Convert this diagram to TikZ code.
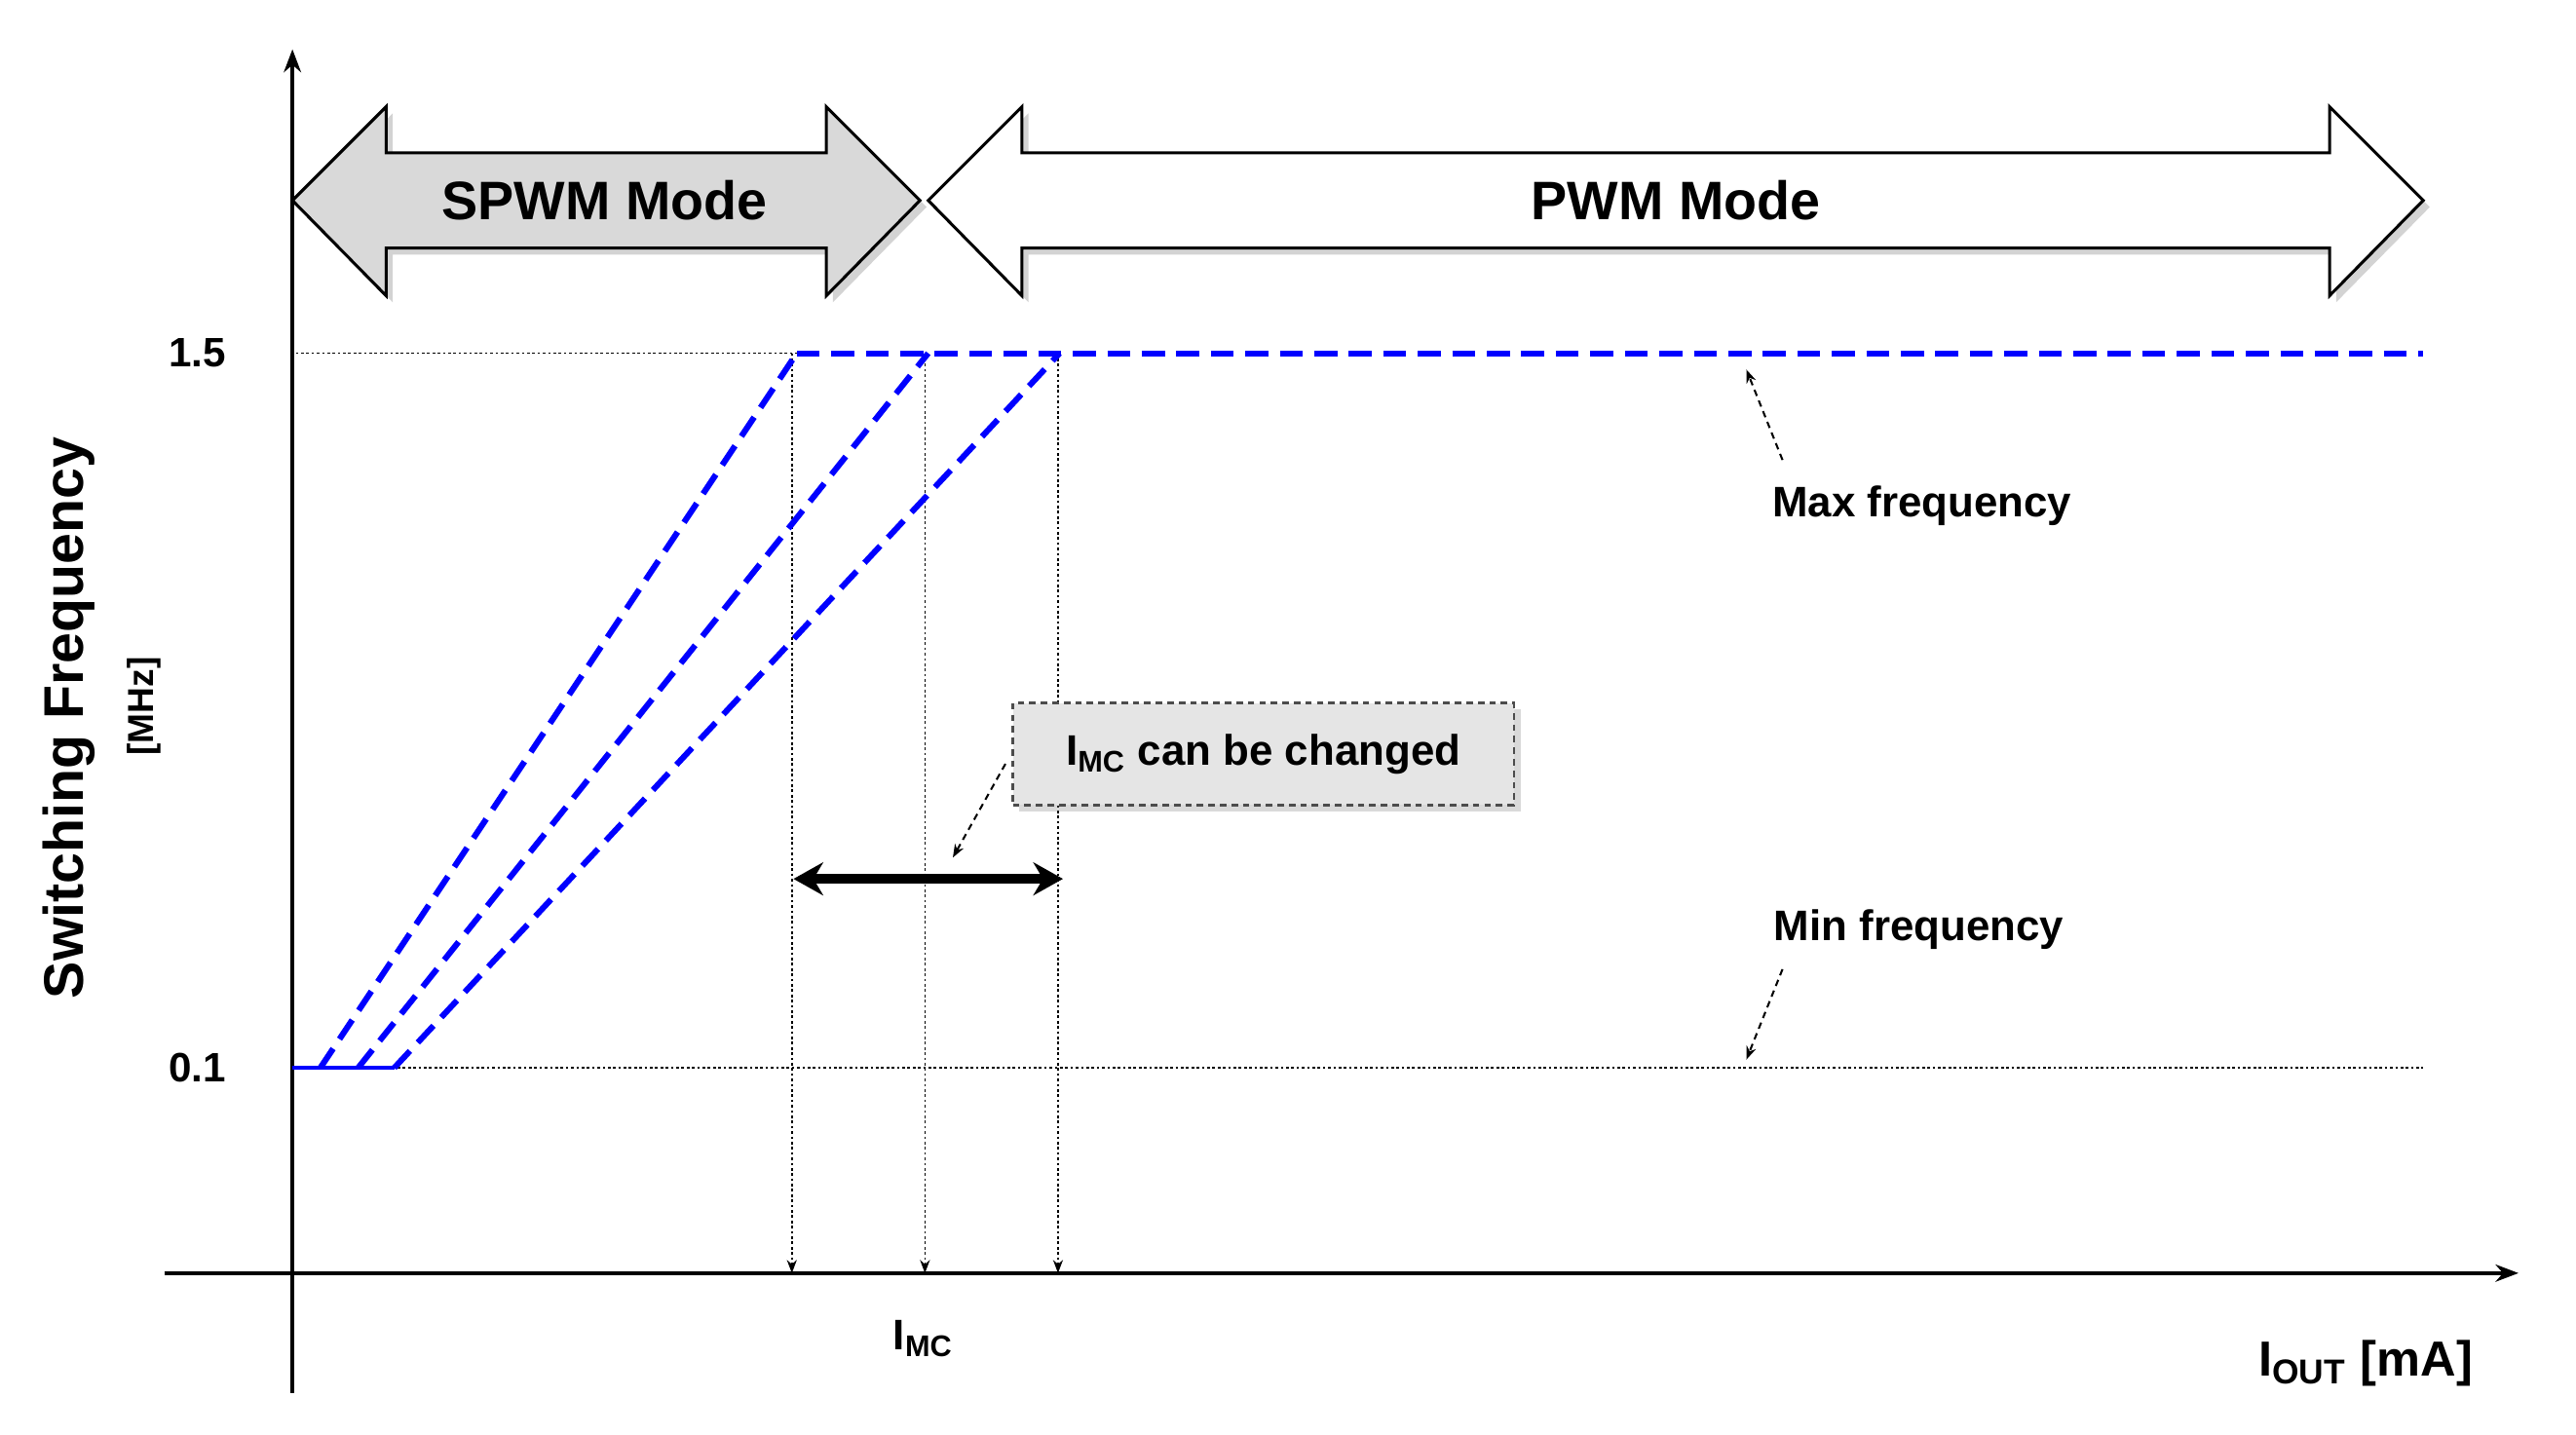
\documentclass[tikz,border=0pt]{standalone}
\usepackage{fontspec}
\setmainfont{Liberation Sans}
\usetikzlibrary{arrows.meta,shadows}
\begin{document}
\begin{tikzpicture}[x=0.5pt,y=-0.5pt,
  lbl/.style={font=\bfseries\fontsize{13}{15}\selectfont},
  dbl/.style={draw=black,line width=0.9pt,drop shadow={shadow xshift=2pt,shadow yshift=-2pt,opacity=0.35}},
  blue/.style={draw=blue,line width=1.8pt,dash pattern=on 7pt off 3.5pt},
  dots/.style={line width=0.5pt,dash pattern=on 0.8pt off 0.8pt},
  note/.style={-{Stealth[length=4pt]},line width=0.6pt,dash pattern=on 2pt off 1.5pt}]
\useasboundingbox (0,0) rectangle (1568,873);
% axes
\coordinate (o1) at (178,848); \coordinate (ytop) at (178,30);
\coordinate (x0) at (100,775); \coordinate (xend) at (1533,775);
\draw[line width=1pt,-{Stealth[length=7pt]}] (o1) -- (ytop);
\draw[line width=1pt,-{Stealth[length=7pt]}] (x0) -- (xend);
% mode arrows
\path[dbl,fill=gray!30] (178,122) -- (235,65) -- (235,93) -- (503,93) -- (503,65) -- (560,122) -- (503,180) -- (503,151) -- (235,151) -- (235,180) -- cycle;
\node[font=\bfseries\fontsize{16.5}{19}\selectfont] (spwm) at (368,122) {SPWM Mode};
\path[dbl,fill=white] (565,122) -- (622,65) -- (622,93) -- (1418,93) -- (1418,65) -- (1475,122) -- (1418,180) -- (1418,151) -- (622,151) -- (622,180) -- cycle;
\node[font=\bfseries\fontsize{16.5}{19}\selectfont] (pwm) at (1020,122) {PWM Mode};
% tick labels
\node[font=\bfseries\fontsize{12.5}{14}\selectfont] (t15) at (120,215) {1.5};
\node[font=\bfseries\fontsize{12.5}{14}\selectfont] (t01) at (120,650) {0.1};
% dotted references
\draw[dots] (180,215) -- (485,215);
\draw[dots] (178,650) -- (1475,650);
\foreach \x in {482,563,644}
  \draw[dots,-{Stealth[length=4pt]}] (\x,215) -- (\x,775);
% blue curves
\draw[blue] (195,650) -- (485,215);
\draw[blue] (218,650) -- (565,215);
\draw[blue] (240,650) -- (645,215);
\draw[blue] (485,215) -- (1475,215);
\draw[blue,solid,line width=1.3pt] (178,650) -- (240,650);
% IMC range
\draw[line width=3pt,{Stealth[length=9pt,width=10pt]}-{Stealth[length=9pt,width=10pt]}] (483,535) -- (647,535);
\node[lbl,draw=black!70,fill=gray!20,dash pattern=on 2pt off 1.5pt,line width=0.8pt,minimum width=152.5pt,minimum height=31pt,drop shadow={shadow xshift=2pt,shadow yshift=-2pt,opacity=0.3}] (box) at (769,459) {I\textsubscript{MC} can be changed};
\coordinate (ba) at (580,522);
\draw[note] (612,465) -- (ba);
% notes
\node[lbl] (maxf) at (1170,308) {Max frequency};
\coordinate (ma) at (1063,225);
\draw[note] (1085,280) -- (ma);
\node[lbl] (minf) at (1168,566) {Min frequency};
\coordinate (mi) at (1063,645);
\draw[note] (1085,590) -- (mi);
% axis labels
\node[lbl] (imc) at (562,815) {I\textsubscript{MC}};
\node[font=\bfseries\fontsize{15}{18}\selectfont] (iout) at (1440,830) {I\textsubscript{OUT} [mA]};
\node[rotate=90,font=\bfseries\fontsize{17}{20}\selectfont] (yl) at (42,437) {Switching Frequency};
\node[rotate=90,font=\bfseries\fontsize{11}{13}\selectfont] (yu) at (88,430) {[MHz]};
\end{tikzpicture}
\end{document}
